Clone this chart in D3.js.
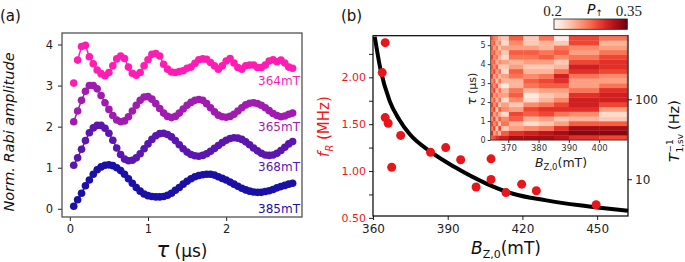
<!DOCTYPE html>
<html lang="en">
<head>
<meta charset="utf-8">
<title>Rabi oscillations vs field</title>
<style>
  body { margin: 0; background: #fff; }
  svg { display: block; font-family: "DejaVu Sans", sans-serif; }
</style>
<script src="https://cdn.jsdelivr.net/npm/d3@7"></script>
</head>
<body>
<script>
// ---- panel (a): normalised Rabi traces ----
const tau = [0.05,0.10,0.15,0.20,0.25,0.30,0.35,0.40,0.45,0.50,
  0.55,0.60,0.65,0.70,0.75,0.80,0.85,0.90,0.95,1.00,
  1.05,1.10,1.15,1.20,1.25,1.30,1.35,1.40,1.45,1.50,
  1.55,1.60,1.65,1.70,1.75,1.80,1.85,1.90,1.95,2.00,
  2.05,2.10,2.15,2.20,2.25,2.30,2.35,2.40,2.45,2.50,
  2.55,2.60,2.65,2.70,2.75,2.80,2.85];
const amp364 = [3.06,3.62,3.95,3.98,3.70,3.53,3.38,3.29,3.24,3.32,
  3.48,3.65,3.72,3.66,3.45,3.30,3.25,3.32,3.48,3.63,
  3.76,3.78,3.72,3.52,3.40,3.33,3.32,3.34,3.36,3.42,
  3.45,3.54,3.63,3.65,3.64,3.56,3.48,3.40,3.48,3.60,
  3.66,3.55,3.44,3.40,3.48,3.50,3.50,3.44,3.44,3.50,
  3.60,3.63,3.58,3.62,3.55,3.45,3.42];
const amp365 = [2.12,2.38,2.64,2.86,3.00,3.00,2.92,2.76,2.58,2.42,
  2.27,2.16,2.12,2.14,2.24,2.38,2.52,2.64,2.72,2.73,
  2.67,2.56,2.44,2.33,2.25,2.22,2.25,2.33,2.43,2.52,
  2.59,2.64,2.66,2.64,2.56,2.46,2.36,2.28,2.24,2.23,
  2.25,2.30,2.38,2.46,2.53,2.57,2.58,2.56,2.52,2.46,
  2.39,2.32,2.27,2.24,2.26,2.30,2.33];
const amp368 = [1.06,1.24,1.45,1.66,1.85,1.97,2.03,2.03,1.96,1.84,
  1.67,1.48,1.32,1.21,1.17,1.18,1.24,1.34,1.46,1.58,
  1.69,1.78,1.83,1.84,1.81,1.75,1.66,1.56,1.46,1.38,
  1.32,1.29,1.28,1.30,1.34,1.40,1.47,1.54,1.61,1.67,
  1.71,1.73,1.72,1.69,1.63,1.56,1.48,1.41,1.35,1.31,
  1.30,1.31,1.35,1.42,1.50,1.58,1.64];
const amp385 = [0.06,0.22,0.38,0.56,0.70,0.84,0.95,1.02,1.06,1.07,
  1.05,1.00,0.93,0.84,0.73,0.62,0.52,0.43,0.36,0.32,
  0.30,0.29,0.29,0.30,0.33,0.38,0.45,0.52,0.60,0.67,
  0.73,0.78,0.81,0.83,0.84,0.84,0.82,0.78,0.74,0.70,
  0.65,0.60,0.55,0.50,0.46,0.43,0.41,0.40,0.40,0.42,
  0.44,0.47,0.51,0.54,0.57,0.60,0.62];
const traceNames = ["364mT", "365mT", "368mT", "385mT"];
const traceLabelY = [3.01, 1.89, 0.92, -0.1];   // baseline of each name, in amplitude units
const tauTicks = [0, 1, 2];
const ampTicks = [0, 1, 2, 3, 4];

// ---- panel (b): Rabi frequency vs field ----
const fieldB = [364.9, 363.7, 364.9, 366.1, 371.1, 367.5, 383.1, 389.2, 395.2, 407.4, 407.4, 401.4, 413.4, 419.7, 425.6, 449.6];
const freqR  = [2.37, 2.05, 1.57, 1.51, 1.38, 1.04, 1.20, 1.25, 1.12, 1.13, 0.91, 0.83, 0.77, 0.86, 0.79, 0.64];
const fitB = [360.7, 362.9, 366.7, 370.5, 374.7, 383.2, 392.8, 405.5, 416.2, 429.6, 443.0, 452.0, 462.4];
const fitF = [2.433, 2.099, 1.746, 1.550, 1.394, 1.204, 1.042, 0.866, 0.757, 0.687, 0.634, 0.605, 0.575];
const fieldTicks = [360, 390, 420, 450];
const freqTicks = [0.5, 0.75, 1.0, 1.25, 1.5, 1.75, 2.0, 2.25];
const rateTicks = [10, 100];

// ---- inset: P_up map ----
const mapEdgesB = [364.2, 365.0, 365.8, 366.7, 367.6, 370.2, 375.0, 380.1, 385.1, 390.0, 400.0, 409.3];
const mapEdgesTau = [0,0.25,0.5,0.75,1,1.25,1.5,1.75,2,2.25,2.5,2.75,3,3.25,3.5,3.75,4,4.25,4.5,4.75,5,5.25,5.5];
const pUp = [
  [0.28,0.30,0.27,0.29,0.26,0.29,0.27,0.29,0.26,0.29,0.27,0.28,0.26,0.29,0.27,0.28,0.27,0.29,0.27,0.28,0.27,0.28],
  [0.29,0.25,0.29,0.26,0.29,0.25,0.29,0.26,0.28,0.25,0.29,0.26,0.28,0.25,0.29,0.26,0.28,0.26,0.28,0.25,0.28,0.27],
  [0.30,0.27,0.23,0.28,0.24,0.27,0.23,0.28,0.24,0.27,0.24,0.28,0.23,0.27,0.25,0.28,0.24,0.27,0.25,0.27,0.24,0.26],
  [0.31,0.24,0.29,0.23,0.28,0.24,0.28,0.23,0.27,0.25,0.27,0.23,0.27,0.24,0.27,0.23,0.26,0.24,0.26,0.23,0.26,0.24],
  [0.31,0.28,0.23,0.27,0.26,0.22,0.26,0.25,0.22,0.25,0.24,0.21,0.24,0.25,0.22,0.23,0.25,0.22,0.23,0.25,0.22,0.23],
  [0.33,0.30,0.25,0.24,0.28,0.29,0.25,0.23,0.26,0.28,0.27,0.24,0.24,0.27,0.28,0.25,0.24,0.27,0.28,0.25,0.26,0.28],
  [0.33,0.31,0.26,0.22,0.24,0.28,0.29,0.26,0.22,0.21,0.24,0.27,0.28,0.26,0.24,0.23,0.25,0.27,0.28,0.25,0.23,0.23],
  [0.33,0.32,0.27,0.23,0.25,0.29,0.30,0.27,0.24,0.23,0.25,0.28,0.29,0.27,0.24,0.23,0.25,0.28,0.27,0.24,0.24,0.27],
  [0.32,0.33,0.30,0.25,0.23,0.27,0.30,0.29,0.26,0.24,0.25,0.28,0.30,0.31,0.27,0.24,0.23,0.26,0.28,0.27,0.23,0.21],
  [0.30,0.34,0.33,0.28,0.24,0.26,0.30,0.31,0.31,0.30,0.27,0.25,0.25,0.27,0.30,0.31,0.29,0.27,0.25,0.26,0.29,0.29],
  [0.29,0.34,0.33,0.28,0.23,0.22,0.25,0.29,0.31,0.31,0.30,0.27,0.25,0.26,0.29,0.30,0.30,0.29,0.27,0.25,0.24,0.27]
];
const mapTauTicks = [0, 1, 2, 3, 4, 5];
const mapFieldTicks = [370, 380, 390, 400];
const pRange = [0.2, 0.35];

const W = 685, H = 262;
const svg = d3.select("body").append("svg").attr("width", W).attr("height", H);

const traceColors = ["#ff1cb4", "#a01cb0", "#5a16ae", "#1a10a8"];
const red = "#f01818";

function styleAxis(g, size, color) {
  g.select(".domain").remove();
  g.selectAll("line").attr("stroke", color);
  g.selectAll("text").attr("fill", color).style("font-size", size + "px")
    .style("font-family", "DejaVu Sans, sans-serif");
}

// ===================== panel (a) =====================
const xa = d3.scaleLinear().domain([-0.1, 2.97]).range([62, 302]);
const ya = d3.scaleLinear().domain([-0.2, 4.28]).range([217, 33]);

svg.append("g").attr("transform", "translate(62,0)")
  .call(d3.axisLeft(ya).tickValues(ampTicks).tickFormat(d3.format("d")).tickSize(4).tickPadding(5))
  .call(g => styleAxis(g, 11.5, "#222"));
svg.append("g").attr("transform", "translate(0,217)")
  .call(d3.axisBottom(xa).tickValues(tauTicks).tickFormat(d3.format("d")).tickSize(4).tickPadding(4))
  .call(g => styleAxis(g, 11.5, "#222"));

const traces = [amp364, amp365, amp368, amp385];
const lineA = d3.line().x((d, i) => xa(tau[i])).y(d => ya(d));
traces.forEach((vals, k) => {
  const gs = svg.append("g");
  // thin connecting line (the first 364mT point sits off the curve)
  gs.append("path").datum(k === 0 ? vals.slice(1) : vals)
    .attr("d", k === 0 ? d3.line().x((d, i) => xa(tau[i + 1])).y(d => ya(d)) : lineA)
    .attr("fill", "none").attr("stroke", traceColors[k]).attr("stroke-width", 1.5);
  gs.selectAll("circle").data(vals).join("circle")
    .attr("cx", (d, i) => xa(tau[i])).attr("cy", d => ya(d)).attr("r", 3.8)
    .attr("fill", traceColors[k]);
  svg.append("text").attr("x", 300).attr("y", ya(traceLabelY[k]))
    .attr("text-anchor", "end").attr("fill", traceColors[k])
    .style("font-size", "12px").text(traceNames[k]);
});

svg.append("rect").attr("x", 62).attr("y", 33).attr("width", 240).attr("height", 184)
  .attr("fill", "none").attr("stroke", "#444").attr("stroke-width", 1.2);

svg.append("text").attr("x", 0).attr("y", 21).style("font-size", "15px").attr("fill", "#111").text("(a)");

svg.append("text").attr("transform", "translate(14,132) rotate(-90)")
  .attr("text-anchor", "middle").style("font-size", "14.5px").style("font-style", "italic")
  .attr("fill", "#111").text("Norm. Rabi amplitude");

const tl = svg.append("text").attr("x", 182).attr("y", 257).attr("text-anchor", "middle").attr("fill", "#111");
tl.append("tspan").style("font-size", "21px").style("font-style", "italic").text("τ");
tl.append("tspan").style("font-size", "17px").text(" (μs)");

// ===================== panel (b) =====================
const xb = d3.scaleLinear().domain([360, 462.4]).range([373, 628]);
const yb = d3.scaleLinear().domain([0.52, 2.444]).range([216, 35.7]);
const yr = d3.scaleLog().domain([3.47, 624]).range([216, 35.7]);

svg.append("g").attr("transform", "translate(373,0)")
  .call(d3.axisLeft(yb).tickValues(freqTicks).tickSize(4).tickPadding(3)
    .tickFormat(d => (Math.round(d * 100) % 50 === 0 ? d3.format(".2f")(d) : "")))
  .call(g => styleAxis(g, 11, red))
  .call(g => g.selectAll("line").attr("stroke", "#222"));
svg.append("g").attr("transform", "translate(0,216)")
  .call(d3.axisBottom(xb).tickValues(fieldTicks).tickSize(4).tickPadding(4))
  .call(g => styleAxis(g, 12, "#222"));
svg.append("g").attr("transform", "translate(628,0)")
  .call(d3.axisRight(yr).tickValues(rateTicks).tickSize(4).tickPadding(3).tickFormat(d3.format("d")))
  .call(g => styleAxis(g, 12, "#222"));

svg.append("path").datum(fitB.map((b, i) => [b, fitF[i]]))
  .attr("d", d3.line().x(d => xb(d[0])).y(d => yb(d[1])).curve(d3.curveMonotoneX))
  .attr("fill", "none").attr("stroke", "#000").attr("stroke-width", 4);

svg.append("g").selectAll("circle").data(fieldB).join("circle")
  .attr("cx", d => xb(d)).attr("cy", (d, i) => yb(freqR[i])).attr("r", 4.5)
  .attr("fill", "#e8161b");

svg.append("rect").attr("x", 373).attr("y", 35.7).attr("width", 255).attr("height", 180.3)
  .attr("fill", "none").attr("stroke", "#000").attr("stroke-width", 1.2);

svg.append("text").attr("x", 341).attr("y", 21).style("font-size", "15px").attr("fill", "#111").text("(b)");

// left title f_R (MHz)
const fl = svg.append("g").attr("transform", "translate(329,127) rotate(-90)").attr("fill", red);
fl.append("text").attr("x", -30).style("font-size", "15px").style("font-style", "italic").text("f");
fl.append("text").attr("x", -24.5).attr("y", 4).style("font-size", "10px").style("font-style", "italic").text("R");
fl.append("text").attr("x", -13).style("font-size", "15px").text("(MHz)");

// bottom title B_Z,0 (mT)
const bl = svg.append("text").attr("x", 471).attr("y", 253.5).attr("fill", "#111");
bl.append("tspan").style("font-size", "17px").style("font-style", "italic").text("B");
bl.append("tspan").attr("dy", 4).style("font-size", "11px").text("Z,0");
bl.append("tspan").attr("dy", -4).style("font-size", "17px").text("(mT)");

// right title T^-1_1,sv (Hz)
const rl = svg.append("g").attr("transform", "translate(679,131) rotate(-90)").attr("fill", "#111");
rl.append("text").attr("x", -31).style("font-size", "14.5px").style("font-style", "italic").text("T");
rl.append("text").attr("x", -21.5).attr("y", -6.5).style("font-size", "9px").text("−1");
rl.append("text").attr("x", -21.5).attr("y", 4).style("font-size", "9px").text("1,sv");
rl.append("text").attr("x", 1).style("font-size", "14.5px").text("(Hz)");

// ===================== inset map =====================
const xi = d3.scaleLinear().domain([364.2, 409.3]).range([490.7, 627.3]);
const yi = d3.scaleLinear().domain([0, 5.5]).range([140, 35.7]);
const pColor = d3.scaleSequential(d3.interpolateReds).domain(pRange);

svg.append("rect").attr("x", 490.7).attr("y", 35.7).attr("width", 136.6).attr("height", 104.3).attr("fill", "#fff");
const cells = [];
pUp.forEach((col, c) => col.forEach((v, r) => cells.push({ c, r, v })));
svg.append("g").selectAll("rect").data(cells).join("rect")
  .attr("x", d => xi(mapEdgesB[d.c])).attr("width", d => xi(mapEdgesB[d.c + 1]) - xi(mapEdgesB[d.c]) + 0.3)
  .attr("y", d => yi(mapEdgesTau[d.r + 1])).attr("height", d => yi(mapEdgesTau[d.r]) - yi(mapEdgesTau[d.r + 1]) + 0.3)
  .attr("fill", d => pColor(d.v));

svg.append("g").attr("transform", "translate(490.7,0)")
  .call(d3.axisLeft(yi).tickValues(mapTauTicks).tickFormat(d3.format("d")).tickSize(3).tickPadding(2))
  .call(g => styleAxis(g, 8, "#333"));
svg.append("g").attr("transform", "translate(0,140)")
  .call(d3.axisBottom(xi).tickValues(mapFieldTicks).tickFormat(d3.format("d")).tickSize(3).tickPadding(2))
  .call(g => styleAxis(g, 8.5, "#333"));
svg.append("rect").attr("x", 490.7).attr("y", 35.7).attr("width", 136.6).attr("height", 104.3)
  .attr("fill", "none").attr("stroke", "#333").attr("stroke-width", 0.8);

const il = svg.append("text").attr("transform", "translate(476,89) rotate(-90)")
  .attr("text-anchor", "middle").attr("fill", "#222");
il.append("tspan").style("font-size", "13px").style("font-style", "italic").text("τ");
il.append("tspan").style("font-size", "11px").text(" (μs)");

const ib = svg.append("text").attr("x", 535).attr("y", 167).attr("fill", "#222");
ib.append("tspan").style("font-size", "12.5px").style("font-style", "italic").text("B");
ib.append("tspan").attr("dy", 3).style("font-size", "8.5px").text("Z,0");
ib.append("tspan").attr("dy", -3).style("font-size", "12.5px").text("(mT)");

// colour bar
const grad = svg.append("defs").append("linearGradient").attr("id", "pbar");
d3.range(0, 1.0001, 0.1).forEach(t => {
  grad.append("stop").attr("offset", t).attr("stop-color", pColor(pRange[0] + t * (pRange[1] - pRange[0])));
});
svg.append("rect").attr("x", 554).attr("y", 19).attr("width", 73.3).attr("height", 10.3)
  .attr("fill", "url(#pbar)").attr("stroke", "#222").attr("stroke-width", 0.8);
const cbx = d3.scaleLinear().domain(pRange).range([554, 627.3]);
svg.append("text").attr("x", cbx(pRange[0]) - 1.5).attr("y", 16).attr("text-anchor", "middle")
  .style("font-family", "Liberation Serif, serif").style("font-size", "15px").attr("fill", "#222").text("0.2");
svg.append("text").attr("x", cbx(pRange[1]) + 1.5).attr("y", 16).attr("text-anchor", "middle")
  .style("font-family", "Liberation Serif, serif").style("font-size", "15px").attr("fill", "#222").text("0.35");
const pl = svg.append("text").attr("x", 587).attr("y", 13.5).attr("fill", "#111");
pl.append("tspan").style("font-size", "14px").style("font-style", "italic").text("P");
pl.append("tspan").attr("dy", 2).style("font-size", "9px").text("↑");
</script>
</body>
</html>
